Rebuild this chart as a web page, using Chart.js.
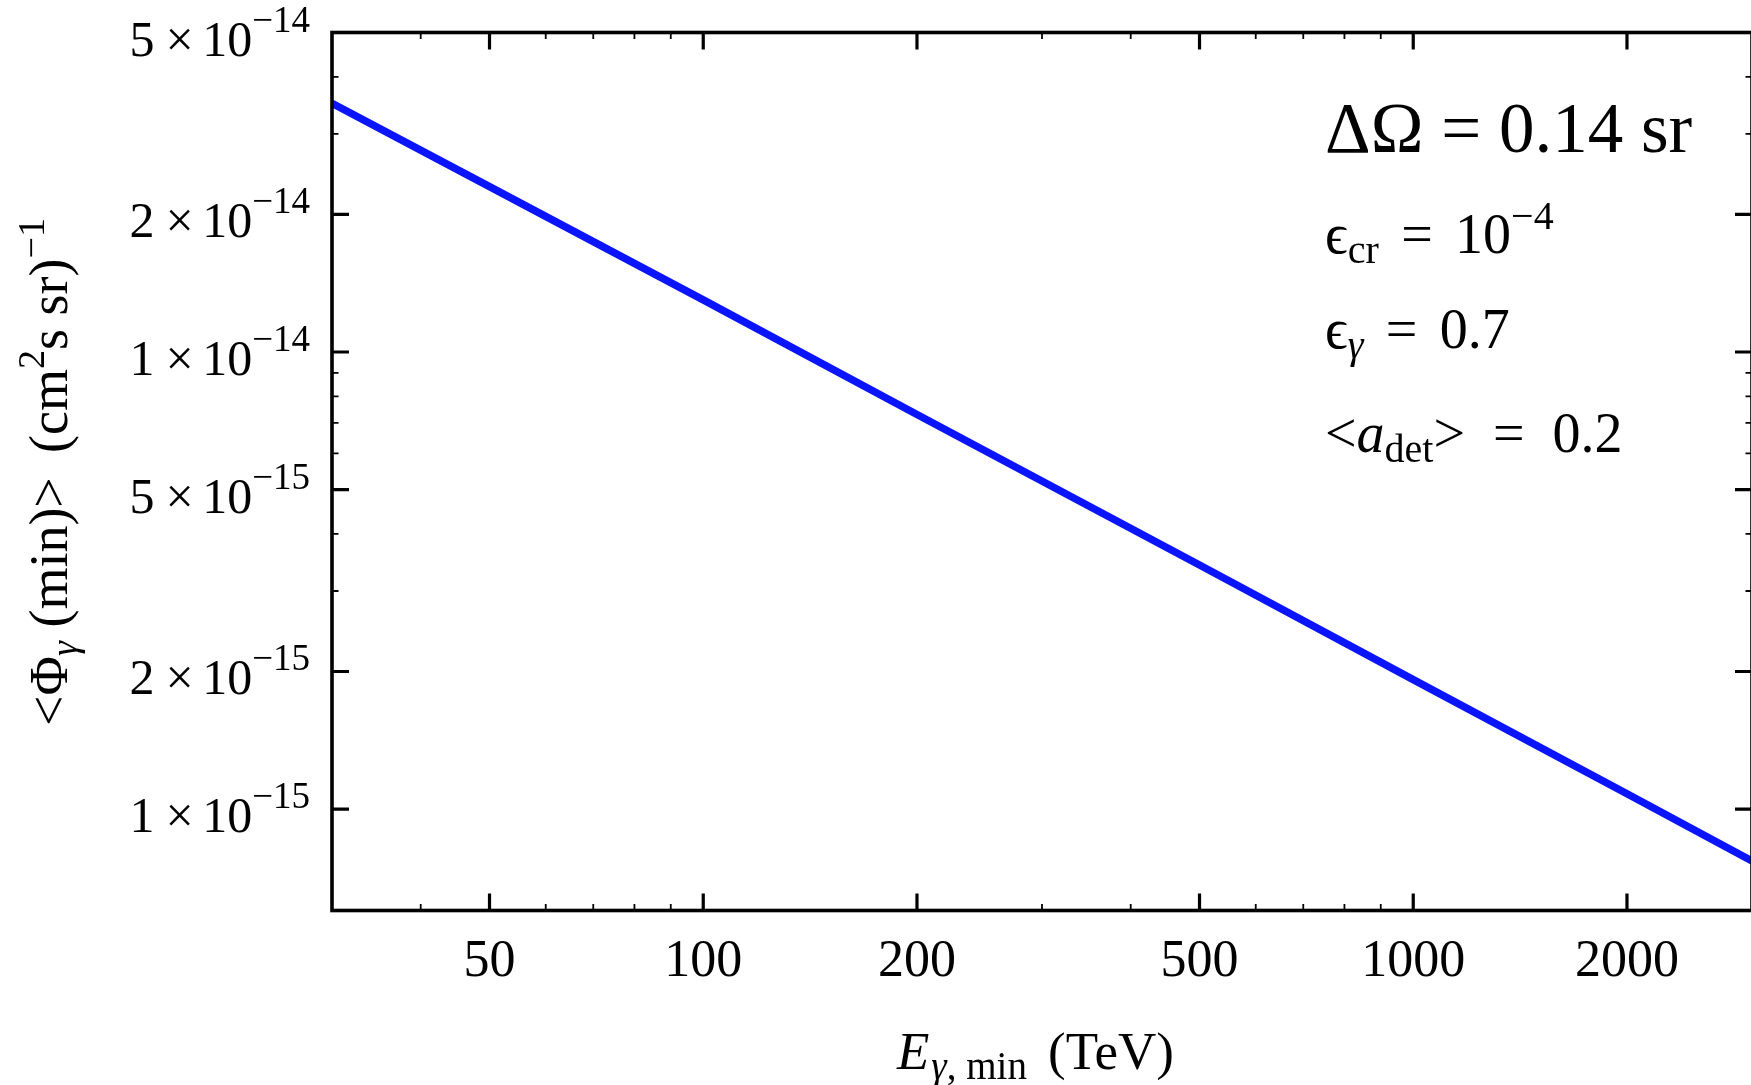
<!DOCTYPE html>
<html>
<head>
<meta charset="utf-8">
<script src="https://cdn.jsdelivr.net/npm/chart.js@4/dist/chart.umd.min.js"></script>
<style>
  html, body { margin: 0; padding: 0; background: #ffffff; overflow: hidden; }
  #wrap { width: 1760px; height: 1085px; }
</style>
</head>
<body>
<div id="wrap"><canvas id="fluxChart" width="1760" height="1085"></canvas></div>
<script>
// Minimum detectable gamma-ray flux versus threshold energy
const energies = [30, 50, 100, 200, 500, 1000, 2000, 3000];                 // TeV
const fluxMin  = [3.50e-14, 2.30e-14, 1.30e-14, 7.3e-15, 3.42e-15, 1.92e-15, 1.08e-15, 7.7e-16]; // (cm^2 s sr)^-1

// Axis ranges and tick marks
const xRange = [30, 3000];
const yRange = [6.0e-16, 5e-14];
const xMajorTicks = [50, 100, 200, 500, 1000, 2000];
const xMinorTicks = [40, 60, 70, 80, 90, 300, 400, 600, 700, 800, 900];
const yMajorTicks = [5e-14, 2e-14, 1e-14, 5e-15, 2e-15, 1e-15];
const yMinorTicks = [4e-14, 3e-14, 9e-15, 8e-15, 7e-15, 6e-15, 4e-15, 3e-15];

// Parameter box (gap = extra space in em)
const paramLines = [
  [{t: 'ΔΩ'}, {gap: 0.25}, {t: '='}, {gap: 0.25}, {t: '0.14 sr'}],
  [{t: 'ϵ'}, {t: 'cr', sub: true}, {gap: 0.4}, {t: '='}, {gap: 0.4}, {t: '10'}, {t: '−4', sup: true}],
  [{t: 'ϵ'}, {t: 'γ', sub: true, italic: true}, {gap: 0.4}, {t: '='}, {gap: 0.4}, {t: '0.7'}],
  [{t: '<'}, {t: 'a', italic: true}, {t: 'det', sub: true}, {t: '>'}, {gap: 0.5}, {t: '='}, {gap: 0.5}, {t: '0.2'}]
];

const SERIF = "'Liberation Serif', 'Times New Roman', 'DejaVu Serif', serif";

function fontFor(size, italic) {
  return (italic ? 'italic ' : '') + size + 'px ' + SERIF;
}

// Width of a run of text pieces with sub/superscripts
function richWidth(ctx, parts, base, small) {
  let w = 0;
  for (const p of parts) {
    if (p.gap) { w += p.gap * base; continue; }
    ctx.font = fontFor(p.sub || p.sup ? small : base, p.italic);
    w += ctx.measureText(p.t).width;
  }
  return w;
}
// Draw the run starting at x on baseline y
function drawRich(ctx, parts, x, y, base, small, subDrop, supRise) {
  ctx.textAlign = 'left';
  ctx.textBaseline = 'alphabetic';
  for (const p of parts) {
    if (p.gap) { x += p.gap * base; continue; }
    const sz = p.sub || p.sup ? small : base;
    ctx.font = fontFor(sz, p.italic);
    const dy = p.sub ? subDrop : (p.sup ? -supRise : 0);
    ctx.fillText(p.t, x, y + dy);
    x += ctx.measureText(p.t).width;
  }
  return x;
}

function splitSci(v) {
  const [m, e] = v.toExponential(0).split('e');
  return [m, e.replace('-', '−').replace('+', '')];
}

const frameAndText = {
  id: 'frameAndText',
  afterDatasetsDraw(chart) {
    const ctx = chart.ctx;
    const xs = chart.scales.x, ys = chart.scales.y;
    const a = chart.chartArea;
    ctx.save();
    ctx.fillStyle = '#000';
    ctx.strokeStyle = '#000';

    // frame
    ctx.lineWidth = 3.6;
    ctx.strokeRect(a.left, a.top, a.right - a.left, a.bottom - a.top);

    // ticks, pointing into the plot on all four sides
    const tick = (len, w, list, horiz) => {
      ctx.lineWidth = w;
      ctx.beginPath();
      for (const v of list) {
        if (horiz) {
          const px = xs.getPixelForValue(v);
          ctx.moveTo(px, a.bottom); ctx.lineTo(px, a.bottom - len);
          ctx.moveTo(px, a.top);    ctx.lineTo(px, a.top + len);
        } else {
          const py = ys.getPixelForValue(v);
          ctx.moveTo(a.left, py);  ctx.lineTo(a.left + len, py);
          ctx.moveTo(a.right, py); ctx.lineTo(a.right - len, py);
        }
      }
      ctx.stroke();
    };
    tick(17, 3.2, xMajorTicks, true);
    tick(6.5, 1.8, xMinorTicks, true);
    tick(17, 3.2, yMajorTicks, false);
    tick(6.5, 1.8, yMinorTicks, false);

    // x tick labels
    ctx.font = fontFor(52, false);
    ctx.textAlign = 'center';
    ctx.textBaseline = 'alphabetic';
    for (const v of xMajorTicks) {
      ctx.fillText(String(v), xs.getPixelForValue(v), 976);
    }

    // y tick labels: m × 10^e
    for (const v of yMajorTicks) {
      const [m, e] = splitSci(v);
      const parts = [{t: m}, {gap: 0.22}, {t: '×'}, {gap: 0.17}, {t: '10'}, {t: e, sup: true}];
      const w = richWidth(ctx, parts, 50, 37);
      const py = ys.getPixelForValue(v);
      drawRich(ctx, parts, a.left - 22 - w, py + 23, 50, 37, 0, 24);
    }

    // x axis title
    let x = 897;
    x = drawRich(ctx, [{t: 'E', italic: true}], x, 1069, 53, 39, 0, 0);
    x = drawRich(ctx, [{t: 'γ', sub: true, italic: true}, {t: ', min', sub: true}], x + 2, 1069, 53, 39, 10, 0);
    drawRich(ctx, [{gap: 0.4}, {t: '(TeV)'}], x, 1069, 53, 39, 0, 0);

    // y axis title, rotated
    const yTitle = [
      {t: '<Φ'}, {t: 'γ', sub: true, italic: true}, {t: ' (min)>'}, {gap: 0.45}, {t: '(cm'},
      {t: '2', sup: true}, {t: 's sr)'}, {t: '−1', sup: true}
    ];
    const tw = richWidth(ctx, yTitle, 54, 38);
    ctx.save();
    ctx.translate(67, 472);
    ctx.rotate(-Math.PI / 2);
    drawRich(ctx, yTitle, -tw / 2, 0, 54, 38, 10, 23);
    ctx.restore();

    // parameter box
    drawRich(ctx, paramLines[0], 1325, 152, 71, 50, 0, 0);
    drawRich(ctx, paramLines[1], 1325, 253, 56, 40, 10, 24);
    drawRich(ctx, paramLines[2], 1325, 348, 56, 40, 10, 24);
    drawRich(ctx, paramLines[3], 1325, 452, 56, 40, 10, 24);

    ctx.restore();
  }
};

new Chart(document.getElementById('fluxChart'), {
  type: 'line',
  data: {
    datasets: [{
      data: energies.map((e, i) => ({x: e, y: fluxMin[i]})),
      borderColor: '#0a14ff',
      borderWidth: 7.5,
      pointRadius: 0,
      tension: 0,
      fill: false
    }]
  },
  options: {
    responsive: false,
    animation: false,
    devicePixelRatio: 1,
    layout: { padding: { left: 332, right: 8, top: 32.5, bottom: 174.5 } },
    plugins: { legend: { display: false }, tooltip: { enabled: false } },
    scales: {
      x: { type: 'logarithmic', min: xRange[0], max: xRange[1], display: false },
      y: { type: 'logarithmic', min: yRange[0], max: yRange[1], display: false }
    }
  },
  plugins: [frameAndText]
});
</script>
</body>
</html>
